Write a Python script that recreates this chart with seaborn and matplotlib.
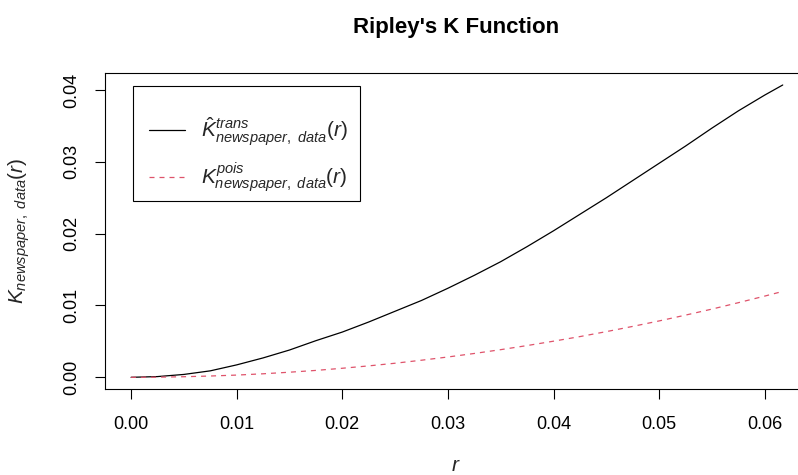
import numpy as np
import pandas as pd
import matplotlib
matplotlib.use("Agg")
import matplotlib.pyplot as plt
from matplotlib.patches import Rectangle
import seaborn as sns

# Distances r and the two K-function estimates
r_values = [0.0, 0.0025, 0.005, 0.0075, 0.01, 0.0125, 0.015, 0.0175, 0.02,
            0.0225, 0.025, 0.0275, 0.03, 0.0325, 0.035, 0.0375, 0.04, 0.0425,
            0.045, 0.0475, 0.05, 0.0525, 0.055, 0.0575, 0.06, 0.0617]
k_trans = [0.0, 0.0001, 0.0004, 0.0009, 0.00173, 0.0027, 0.0038, 0.0051, 0.0063,
           0.0077, 0.0092, 0.0107, 0.0124, 0.0142, 0.0161, 0.0182, 0.0204, 0.0227,
           0.0250, 0.0274, 0.0298, 0.0322, 0.0347, 0.0371, 0.0393, 0.0407]
k_pois = [0.0, 0.00002, 0.00008, 0.00018, 0.00031, 0.00049, 0.00071, 0.00096, 0.00126,
          0.00159, 0.00196, 0.00238, 0.00283, 0.00332, 0.00385, 0.00442, 0.00503, 0.00567,
          0.00636, 0.00709, 0.00785, 0.00866, 0.0095, 0.01039, 0.01131, 0.01196]

x_ticks = [0.00, 0.01, 0.02, 0.03, 0.04, 0.05, 0.06]
y_ticks = [0.00, 0.01, 0.02, 0.03, 0.04]

label_trans = r'$\hat{K}^{trans}_{newspaper,\ data}(r)$'
label_pois = r'$K^{pois}_{newspaper,\ data}(r)$'
label_y = r'$K_{newspaper,\ data}(r)$'

sns.set_theme(style="white")
plt.rcParams['font.family'] = ['Liberation Sans', 'DejaVu Sans']
plt.rcParams['mathtext.fontset'] = 'custom'
plt.rcParams['mathtext.rm'] = 'Liberation Sans'
plt.rcParams['mathtext.it'] = 'Liberation Sans:italic'
plt.rcParams['mathtext.bf'] = 'Liberation Sans:bold'

df = pd.DataFrame({"r": r_values, "trans": k_trans, "pois": k_pois})

fig = plt.figure(figsize=(7.98, 4.75), dpi=100)
W, H = 798, 475
left, right, top, bottom = 105, 808.8, 73.3, 389
ax = fig.add_axes([left / W, 1 - bottom / H, (right - left) / W, (bottom - top) / H])


def ax_x(px):
    return (px - left) / (right - left)


def ax_y(py):
    return (bottom - py) / (bottom - top)


sns.lineplot(data=df, x="r", y="trans", ax=ax, color="black", lw=0.9,
             label=label_trans)
sns.lineplot(data=df, x="r", y="pois", ax=ax, color="#DF536B", lw=0.9,
             label=label_pois)
ax.lines[1].set_dashes([4, 4])

rmax = max(r_values)
ymax = max(k_trans)
ax.set_xlim(-0.04 * rmax, 1.04 * rmax)
ax.set_ylim(-0.04 * ymax, 1.04 * ymax)

ax.set_xticks(x_ticks)
ax.set_xticklabels([f"{v:.2f}" for v in x_ticks])
ax.set_yticks(y_ticks)
ax.set_yticklabels([f"{v:.2f}" for v in y_ticks], rotation=90, va="center")
ax.tick_params(axis="both", direction="out", length=7.5, width=0.8, color="black",
               labelsize=13, labelcolor="black", bottom=True, left=True)
ax.tick_params(axis="x", pad=12)
ax.tick_params(axis="y", pad=10)

for s in ax.spines.values():
    s.set_visible(True)
    s.set_color("black")
    s.set_linewidth(0.8)

ax.set_xlabel(r'$r$', fontsize=15)
ax.xaxis.set_label_coords(ax_x(456), ax_y(456))
ax.set_ylabel(label_y, fontsize=15)
ax.yaxis.set_label_coords(ax_x(32), 0.5)

fig.text(456 / W, 1 - 28 / H, "Ripley's K Function", ha="center", va="center",
         fontsize=16, fontweight="bold", color="black")

# Legend frame drawn as its own box, entries placed inside it
frame = Rectangle((ax_x(133), ax_y(201)), ax_x(360) - ax_x(133), ax_y(86) - ax_y(201),
                  transform=ax.transAxes, facecolor="white", edgecolor="black",
                  linewidth=0.8, zorder=4)
ax.add_patch(frame)
leg = ax.legend(loc="upper left", bbox_to_anchor=(ax_x(133), ax_y(100)),
                borderaxespad=0, frameon=False,
                fontsize=15, handlelength=1.75, handletextpad=0.75, labelspacing=0.6,
                borderpad=0.75)
leg.set_zorder(5)

fig.savefig("out.png", dpi=100)
